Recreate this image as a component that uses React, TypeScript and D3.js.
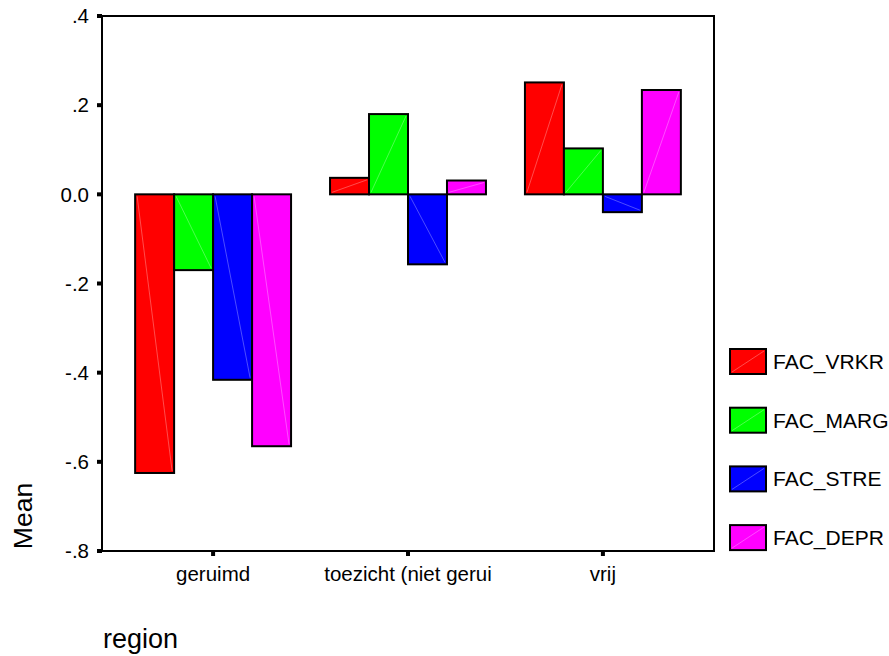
import React from "react";
import * as d3 from "d3";

const categories = ["geruimd", "toezicht (niet gerui", "vrij"];
const seriesNames = ["FAC_VRKR", "FAC_MARG", "FAC_STRE", "FAC_DEPR"];
const seriesColors = ["#ff0000", "#00ff00", "#0000ff", "#ff00ff"];
const diagColors = ["#ff8080", "#80ff80", "#8080ff", "#ff80ff"];
const FAC_VRKR = [-0.625, 0.037, 0.251];
const FAC_MARG = [-0.17, 0.18, 0.103];
const FAC_STRE = [-0.416, -0.157, -0.04];
const FAC_DEPR = [-0.565, 0.031, 0.234];
const seriesValues = [FAC_VRKR, FAC_MARG, FAC_STRE, FAC_DEPR];
const yTicks = [0.4, 0.2, 0, -0.2, -0.4, -0.6, -0.8];
const yTickLabels = [".4", ".2", "0.0", "-.2", "-.4", "-.6", "-.8"];

const W = 889;
const H = 656;
const L = 102, T = 16, R = 714, B = 551;
const FONT = "'Liberation Sans', Arial, sans-serif";

export default function App() {
  const y = d3.scaleLinear().domain([-0.8, 0.4]).range([B, T]);
  const x0 = d3.scaleBand<string>().domain(categories).range([L, R]).paddingInner(0.2).paddingOuter(0.17);
  const x1 = d3.scaleBand<string>().domain(seriesNames).range([0, x0.bandwidth()]);

  return (
    <svg width={W} height={H} style={{ position: "absolute", left: 0, top: 0, background: "#fff" }}>
      <rect x={0} y={0} width={W} height={H} fill="#fff" />
      {/* bars */}
      {categories.map((c, ci) => (
        <g key={c}>
          {seriesNames.map((s, si) => {
            const v = seriesValues[si][ci];
            const bx = (x0(c) as number) + (x1(s) as number);
            const bw = x1.bandwidth();
            const y0 = y(0);
            const yv = y(v);
            const top = Math.min(y0, yv);
            const h = Math.abs(yv - y0);
            const pos = v >= 0;
            return (
              <g key={s}>
                <rect x={bx} y={top} width={bw} height={h} fill={seriesColors[si]} />
                <line
                  x1={bx + 2}
                  y1={pos ? top + h - 2 : top + 2}
                  x2={bx + bw - 2}
                  y2={pos ? top + 2 : top + h - 2}
                  stroke={diagColors[si]}
                  strokeWidth={0.6}
                />
                <rect x={bx} y={top} width={bw} height={h} fill="none" stroke="#000" strokeWidth={2} />
              </g>
            );
          })}
        </g>
      ))}
      {/* frame */}
      <rect x={L} y={T} width={R - L} height={B - T} fill="none" stroke="#000" strokeWidth={2} />
      {/* y ticks */}
      {yTicks.map((t, i) => (
        <g key={i}>
          <rect x={L - 5} y={y(t) - 2} width={5} height={4} fill="#000" />
          <text x={89} y={y(t)} dy="0.35em" textAnchor="end" fontFamily={FONT} fontSize={20.5} fill="#000">
            {yTickLabels[i]}
          </text>
        </g>
      ))}
      {/* x ticks */}
      {categories.map((c) => {
        const cx = (x0(c) as number) + x0.bandwidth() / 2;
        return (
          <g key={c}>
            <rect x={cx - 2} y={B} width={4} height={5} fill="#000" />
            <text x={cx} y={581} textAnchor="middle" fontFamily={FONT} fontSize={20.5} fill="#000">
              {c}
            </text>
          </g>
        );
      })}
      {/* axis titles */}
      <text
        transform={`translate(32,516) rotate(-90)`}
        textAnchor="middle"
        fontFamily={FONT}
        fontSize={26.5}
        fill="#000"
      >
        Mean
      </text>
      <text x={103} y={648} fontFamily={FONT} fontSize={27} fill="#000">
        region
      </text>
      {/* legend */}
      {seriesNames.map((s, si) => {
        const ly = 349 + si * 58.7;
        return (
          <g key={s}>
            <rect x={730} y={ly} width={36} height={25} fill={seriesColors[si]} />
            <line x1={732} y1={ly + 23} x2={764} y2={ly + 2} stroke={diagColors[si]} strokeWidth={0.6} />
            <rect x={730} y={ly} width={36} height={25} fill="none" stroke="#000" strokeWidth={2} />
            <text x={773} y={ly + 12.5} dy="0.35em" fontFamily={FONT} fontSize={21} fill="#000">
              {s}
            </text>
          </g>
        );
      })}
    </svg>
  );
}
